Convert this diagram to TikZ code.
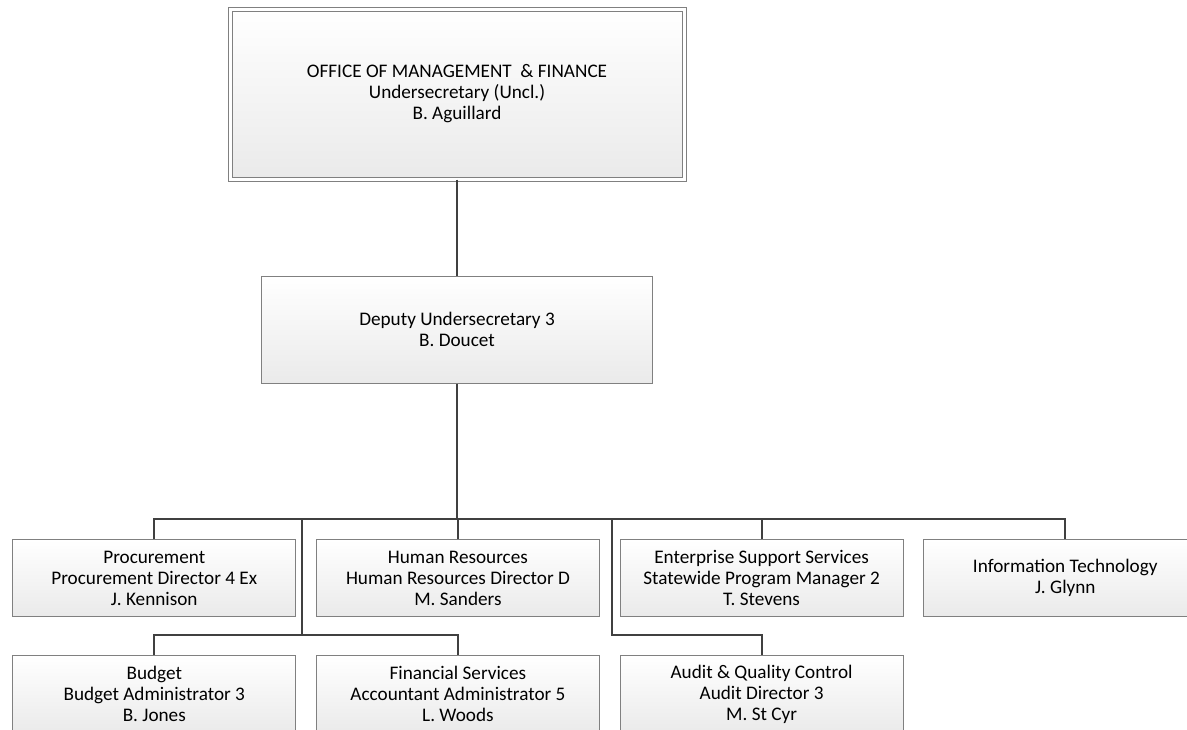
\documentclass[tikz,border=0pt]{standalone}
\usepackage{fontspec}
\setmainfont{Carlito}
\usetikzlibrary{matrix}
\definecolor{orgline}{RGB}{64,64,64}
\definecolor{orgborder}{RGB}{128,128,128}
\definecolor{orgshade}{RGB}{234,234,234}

\begin{document}
\begin{tikzpicture}[x=0.75pt,y=-0.75pt,
		orgbox/.style={draw=orgborder,line width=0.75pt,top color=white,bottom color=orgshade,align=center,inner sep=2pt,font=\fontsize{14.4pt}{15.75pt}\selectfont},
		unitbox/.style={orgbox,minimum width=212.25pt,minimum height=57.75pt},
		link/.style={draw=orgline,line width=1.5pt},
		trunk/.style={link,line width=2pt}]
		\useasboundingbox (0,0) rectangle (1187,729);
		\clip (0,0) rectangle (1187,729);
		\node[orgbox,double=white,double distance=2.25pt,minimum width=340.5pt,minimum height=127.5pt] (omf) at (457,94) {OFFICE OF MANAGEMENT\ \ \& FINANCE\\Undersecretary (Uncl.)\\B. Aguillard};
		\node[orgbox,minimum width=293.25pt,minimum height=80.25pt] (dep) at (457,329.5) {Deputy Undersecretary 3\\B. Doucet};
		\matrix[column sep=14.75pt,row sep=28.5pt,inner sep=0pt,anchor=north west] (units) at (12,539)
		{
			\node[unitbox] (proc) {Procurement\\Procurement Director 4 Ex\\J. Kennison}; &
			\node[unitbox] (hr) {Human Resources\\Human Resources Director D\\M. Sanders}; &
			\node[unitbox] (ess) {Enterprise Support Services\\Statewide Program Manager 2\\T. Stevens}; &
			\node[unitbox] (it) {Information Technology\\J. Glynn}; \\
			\node[unitbox] (bud) {Budget\\Budget Administrator 3\\B. Jones}; &
			\node[unitbox] (fin) {Financial Services\\Accountant Administrator 5\\L. Woods}; &
			\node[unitbox] (aud) {Audit \& Quality Control\\Audit Director 3\\M. St Cyr}; & \\
		};
		% junctions of the buses
		\coordinate (hub) at (457,519);
		\coordinate (mid1) at (302,519);
		\coordinate (mid2) at (612,519);
		\coordinate (low1) at (302,635);
		\coordinate (low2) at (612,635);
		\draw[link] (omf.south) -- (dep.north);
		\draw[trunk] (dep.south) -- (hub);
		\draw[link] (proc.north) -- (proc.north |- hub) -| (it.north);
		\draw[link] (hr.north) -- (hr.north |- hub);
		\draw[link] (ess.north) -- (ess.north |- hub);
		\draw[link] (mid1) -- (low1);
		\draw[link] (bud.north) -- (bud.north |- low1) -| (fin.north);
		\draw[link] (mid2) -- (low2) -| (aud.north);
\end{tikzpicture}
\end{document}
